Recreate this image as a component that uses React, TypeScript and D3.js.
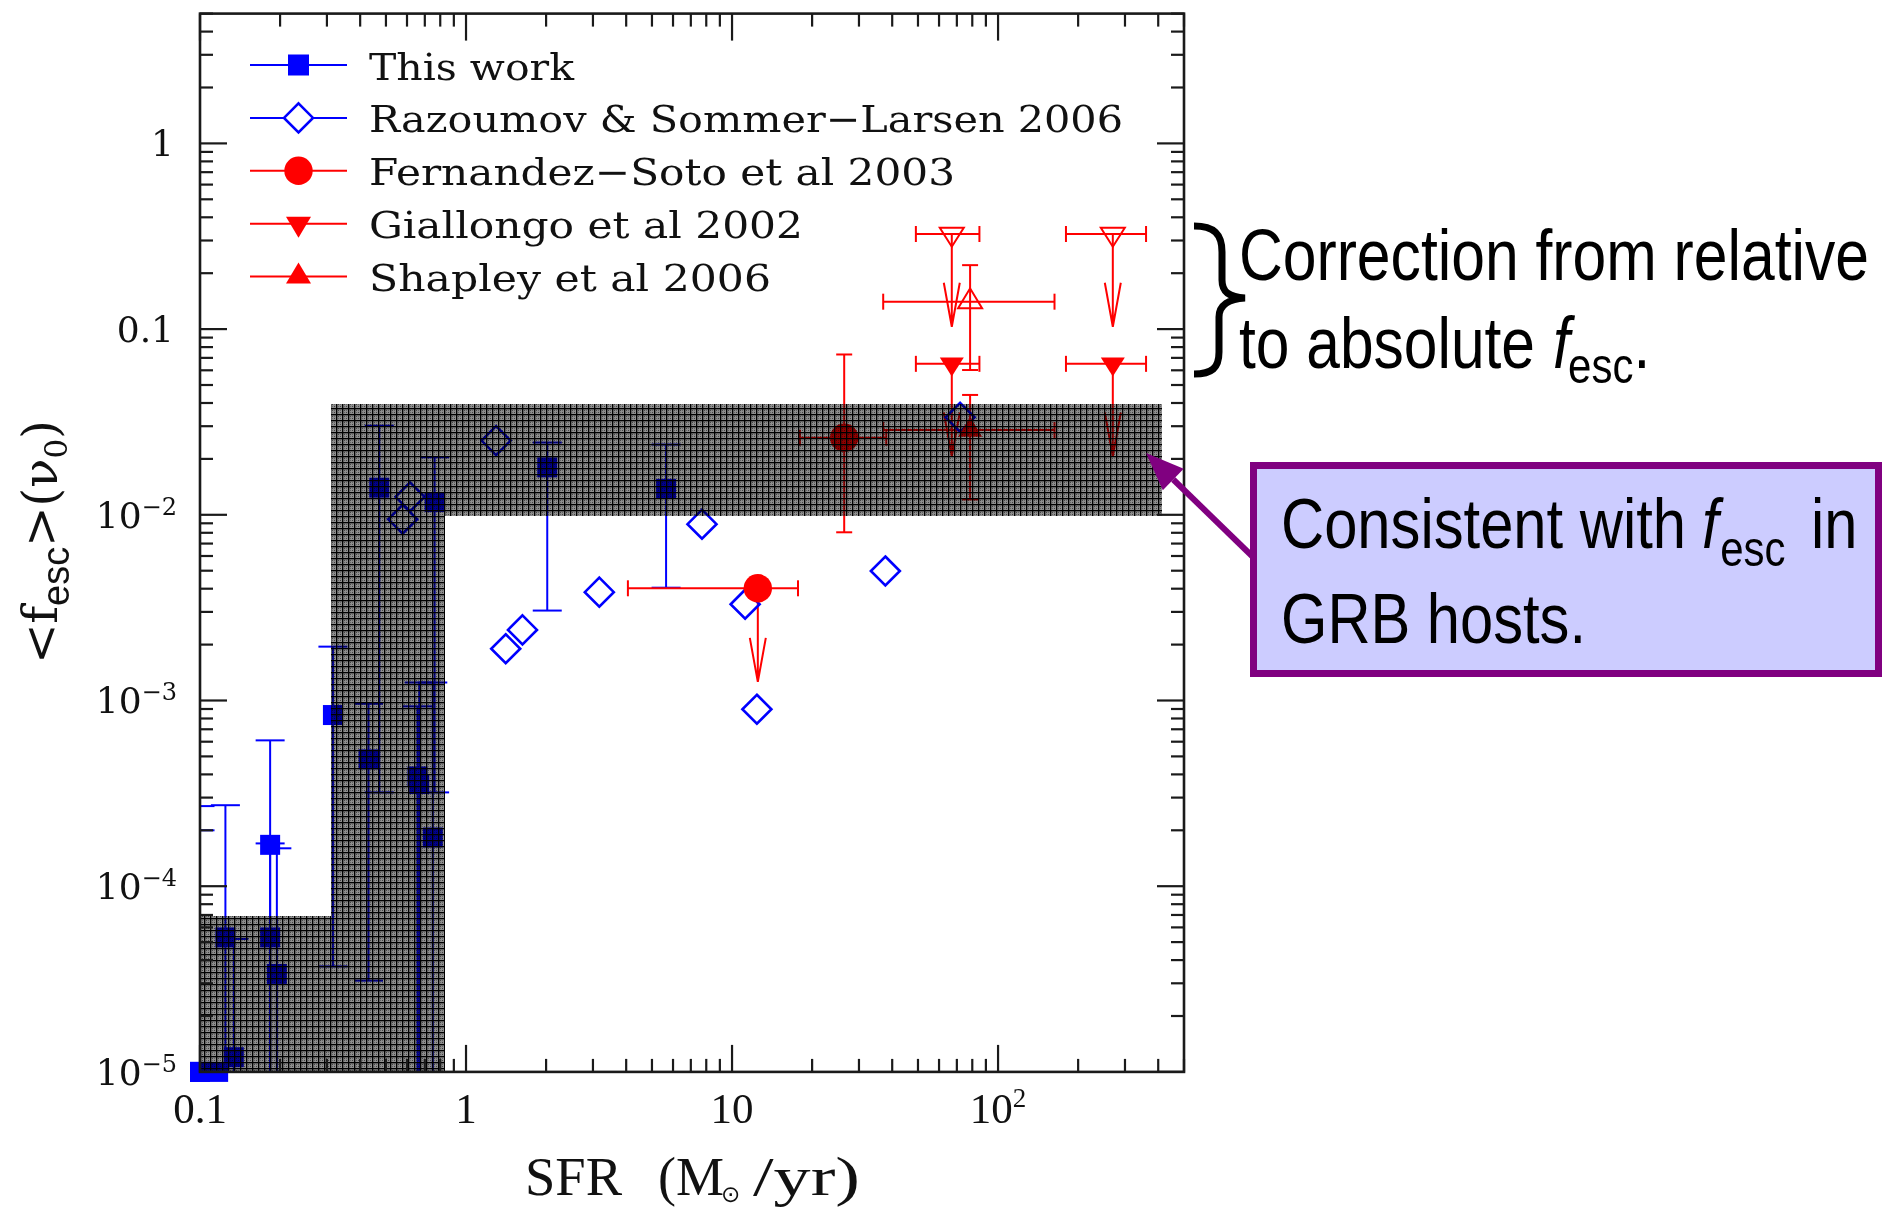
import React from "react";
import * as d3 from "d3";

// ---------- axes ----------
const X_DOMAIN: [number, number] = [0.1, 500];
const Y_DOMAIN: [number, number] = [1e-5, 5];
const xTickValues = [0.1, 1, 10, 100];
const xTickBase = ["0.1", "1", "10", "10"];
const xTickSup = ["", "", "", "2"];
const yTickValues = [1e-5, 1e-4, 1e-3, 1e-2, 0.1, 1];
const yTickBase = ["10", "10", "10", "10", "0.1", "1"];
const yTickSup = ["\u22125", "\u22124", "\u22123", "\u22122", "", ""];

// ---------- This work (filled squares): SFR, <fesc>, lower, upper ----------
// a lower limit of 1e-6 runs off the bottom of the axis
const thisWorkSfr = [0.1, 0.1, 0.117, 0.1246, 0.134, 0.1835, 0.1835, 0.1945, 0.316, 0.43, 0.472, 0.657, 0.667, 0.75, 0.762, 2.02, 5.65];
const thisWorkFesc = [1e-5, 1e-5, 1e-5, 5.3e-5, 1.2e-5, 1.67e-4, 5.3e-5, 3.37e-5, 8.35e-4, 4.82e-4, 0.014, 3.9e-4, 3.55e-4, 1.83e-4, 0.0117, 0.018, 0.0138];
const thisWorkLo = [null, null, null, 1e-6, 1e-6, 1e-6, 1e-6, 1e-6, 3.7e-5, 3.1e-5, 3.2e-4, 1e-6, 1e-6, 1e-6, 3.2e-4, 3.05e-3, 4.05e-3];
const thisWorkHi = [2.7e-4, 2.0e-4, null, 2.73e-4, 5.2e-5, 6.1e-4, 1.7e-4, 1.6e-4, 1.95e-3, 9.6e-4, 0.0302, 9.3e-4, 1.25e-3, 1.25e-3, 0.0204, 0.0245, 0.0239];

// ---------- Razoumov & Sommer-Larsen 2006 (open diamonds) ----------
const razSfr = [0.578, 0.616, 1.297, 1.41, 1.63, 3.17, 7.71, 11.2, 12.4, 37.7, 72.0];
const razFesc = [0.00946, 0.0125, 0.0251, 1.9e-3, 2.4e-3, 3.83e-3, 8.9e-3, 3.3e-3, 8.97e-4, 4.98e-3, 0.0335];

// ---------- Fernandez-Soto et al 2003 (filled circles) ----------
const fsSfr = [12.5, 26.4];
const fsSfrLo = [4.06, 18.0];
const fsSfrHi = [17.7, 38.0];
const fsFesc = [4.02e-3, 0.026];
const fsFescLo = [null, 8.05e-3];
const fsFescHi = [null, 0.073];
const fsLimitTo = [1.26e-3, null];

// ---------- Giallongo et al 2002 (down triangles, upper limits) ----------
const gSfr = [67.0, 270];
const gSfrLo = [49.1, 180];
const gSfrHi = [85.1, 360];
const gFesc = [0.065, 0.065];
const gLimitTo = [0.0206, 0.0206];
const gCorrFesc = [0.325, 0.325];
const gCorrLimitTo = [0.103, 0.103];

// ---------- Shapley et al 2006 (up triangles) ----------
const shSfr = [78.5];
const shSfrLo = [37];
const shSfrHi = [163];
const shFesc = [0.0286];
const shFescLo = [0.0121];
const shFescHi = [0.0442];
const shCorrFesc = [0.1405];
const shCorrFescLo = [0.0602];
const shCorrFescHi = [0.221];

// ---------- shaded region: [sfrMin, sfrMax, fescMin, fescMax] ----------
const shadeSfrMin = [0.1, 0.31, 0.837];
const shadeSfrMax = [0.31, 0.837, 415];
const shadeFescMin = [1e-5, 1e-5, 0.00986];
const shadeFescMax = [6.9e-5, 0.0395, 0.0395];

// ---------- legend ----------
const legendLabels = [
  "This work",
  "Razoumov & Sommer\u2212Larsen 2006",
  "Fernandez\u2212Soto et al 2003",
  "Giallongo et al 2002",
  "Shapley et al 2006",
];
const legendWidths = [205, 754, 586, 434, 402];

const BLUE = "#0000ff";
const RED = "#ff0000";
const PURPLE = "#800080";
const SERIF = "'DejaVu Serif', serif";
const TIMES = "'Liberation Serif', 'Times New Roman', serif";
const SANS = "'Liberation Sans', Arial, sans-serif";
const NARROW = 0.84; // horizontal squeeze for the condensed sans notes

function logTicks(lo: number, hi: number) {
  const out: { v: number; major: boolean }[] = [];
  for (let e = Math.floor(Math.log10(lo)); e <= Math.ceil(Math.log10(hi)); e++) {
    for (let k = 1; k <= 9; k++) {
      const v = +(k * Math.pow(10, e)).toPrecision(6);
      if (v >= lo * 0.9999 && v <= hi * 1.0001) out.push({ v, major: k === 1 });
    }
  }
  return out;
}

const triDown = (cx: number, cy: number, w: number, h: number) =>
  `M${cx - w / 2},${cy - h / 3}L${cx + w / 2},${cy - h / 3}L${cx},${cy + (2 * h) / 3}Z`;
const triUp = (cx: number, cy: number, w: number, h: number) =>
  `M${cx - w / 2},${cy + h / 3}L${cx + w / 2},${cy + h / 3}L${cx},${cy - (2 * h) / 3}Z`;
const diamond = (cx: number, cy: number, r: number) =>
  `M${cx},${cy - r}L${cx + r},${cy}L${cx},${cy + r}L${cx - r},${cy}Z`;

// condensed sans text placed at (x, y)
function Note({ x, y, size, width, children }: { x: number; y: number; size: number; width?: number; children: React.ReactNode }) {
  return (
    <text transform={`translate(${x},${y}) scale(${NARROW},1)`} fontFamily={SANS} fontSize={size} fill="#000"
      textLength={width ? width / NARROW : undefined} lengthAdjust={width ? "spacingAndGlyphs" : undefined}>
      {children}
    </text>
  );
}

export default function App() {
  const x = d3.scaleLog().domain(X_DOMAIN).range([200, 1184]);
  const y = d3.scaleLog().domain(Y_DOMAIN).range([1071.9, 13.6]);
  const left = 200, right = 1184, top = 13.6, bottom = 1071.9;
  const MAJ = 27, MIN = 13;

  const xt = logTicks(X_DOMAIN[0], X_DOMAIN[1]);
  const yt = logTicks(Y_DOMAIN[0], Y_DOMAIN[1]);

  const clipped: React.ReactNode[] = [];
  const marks: React.ReactNode[] = [];
  let k = 0;
  const line = (x1: number, y1: number, x2: number, y2: number, color: string, w = 2) =>
    clipped.push(<line key={k++} x1={x1} y1={y1} x2={x2} y2={y2} stroke={color} strokeWidth={w} />);
  const vBar = (xv: number, lo: number | null, hi: number | null, yv: number, cap: number, color: string) => {
    const px = x(xv);
    if (hi != null) {
      line(px, y(yv), px, y(hi), color);
      line(px - cap, y(hi), px + cap, y(hi), color);
    }
    if (lo != null) {
      line(px, y(yv), px, y(lo), color);
      line(px - cap, y(lo), px + cap, y(lo), color);
    }
  };
  const hBar = (lo: number, hi: number, yv: number, cap: number, color: string) => {
    const py = y(yv);
    line(x(lo), py, x(hi), py, color);
    line(x(lo), py - cap, x(lo), py + cap, color);
    line(x(hi), py - cap, x(hi), py + cap, color);
  };
  const limit = (xv: number, from: number, to: number, color: string) => {
    const px = x(xv), p0 = y(from), p1 = y(to);
    clipped.push(
      <path key={k++} d={`M${px},${p0}L${px},${p1}M${px - 8},${p1 - 44}L${px},${p1}L${px + 8},${p1 - 44}`}
        stroke={color} strokeWidth={2} fill="none" />
    );
  };

  // This work
  thisWorkSfr.forEach((s, i) => vBar(s, thisWorkLo[i], thisWorkHi[i], thisWorkFesc[i], 14.5, BLUE));
  thisWorkSfr.forEach((s, i) =>
    marks.push(<rect key={k++} x={x(s) - 10} y={y(thisWorkFesc[i]) - 10} width={20} height={20} fill={BLUE} />)
  );
  // Razoumov & Sommer-Larsen
  razSfr.forEach((s, i) =>
    marks.push(<path key={k++} d={diamond(x(s), y(razFesc[i]), 14.5)} fill="none" stroke={BLUE} strokeWidth={2.6} />)
  );
  // Fernandez-Soto
  fsSfr.forEach((s, i) => {
    hBar(fsSfrLo[i], fsSfrHi[i], fsFesc[i], 8, RED);
    vBar(s, fsFescLo[i], fsFescHi[i], fsFesc[i], 8, RED);
    const lt = fsLimitTo[i];
    if (lt != null) limit(s, fsFesc[i], lt, RED);
    marks.push(<circle key={k++} cx={x(s)} cy={y(fsFesc[i])} r={14.2} fill={RED} />);
  });
  // Giallongo
  gSfr.forEach((s, i) => {
    hBar(gSfrLo[i], gSfrHi[i], gFesc[i], 8, RED);
    limit(s, gFesc[i], gLimitTo[i], RED);
    marks.push(<path key={k++} d={triDown(x(s), y(gFesc[i]), 24, 19)} fill={RED} />);
    hBar(gSfrLo[i], gSfrHi[i], gCorrFesc[i], 8, RED);
    limit(s, gCorrFesc[i], gCorrLimitTo[i], RED);
    marks.push(<path key={k++} d={triDown(x(s), y(gCorrFesc[i]), 24, 19)} fill="none" stroke={RED} strokeWidth={2} />);
  });
  // Shapley
  shSfr.forEach((s, i) => {
    hBar(shSfrLo[i], shSfrHi[i], shFesc[i], 8, RED);
    vBar(s, shFescLo[i], shFescHi[i], shFesc[i], 8, RED);
    marks.push(<path key={k++} d={triUp(x(s), y(shFesc[i]), 24, 20)} fill={RED} />);
    hBar(shSfrLo[i], shSfrHi[i], shCorrFesc[i], 8, RED);
    vBar(s, shCorrFescLo[i], shCorrFescHi[i], shCorrFesc[i], 8, RED);
    marks.push(<path key={k++} d={triUp(x(s), y(shCorrFesc[i]), 24, 20)} fill="none" stroke={RED} strokeWidth={2} />);
  });

  // arrow from the box to the shaded band
  const tip = [1146, 453], start = [1252, 556];
  const dx = tip[0] - start[0], dy = tip[1] - start[1];
  const len = Math.hypot(dx, dy);
  const ux = dx / len, uy = dy / len;
  const bx = tip[0] - ux * 38, by = tip[1] - uy * 38;
  const nx = -uy, ny = ux;

  return (
    <svg width={1884} height={1210} style={{ position: "absolute", left: 0, top: 0 }}>
      <defs>
        <clipPath id="plotArea">
          <rect x={left} y={top} width={right - left} height={bottom - top} />
        </clipPath>
        <pattern id="hatch" width={6} height={6} patternUnits="userSpaceOnUse">
          <rect width={6} height={6} fill="#8e8e8e" />
          <rect x={2} y={2} width={1} height={1} fill="#444" />
          <rect x={4} y={4} width={1} height={1} fill="#444" />
          <rect x={2} y={4} width={1} height={1} fill="#666" />
          <rect x={4} y={2} width={1} height={1} fill="#666" />
          <rect x={0} y={0} width={6} height={1.3} fill="#000" />
          <rect x={0} y={0} width={1.3} height={6} fill="#000" />
        </pattern>
      </defs>
      <rect x={0} y={0} width={1884} height={1210} fill="#fff" />

      {/* data */}
      <g clipPath="url(#plotArea)">{clipped}</g>
      <g>{marks}</g>

      {/* shaded band, multiplied over the points */}
      <g style={{ mixBlendMode: "multiply" }} shapeRendering="crispEdges">
        {shadeSfrMin.map((s, i) => (
          <rect key={i} x={x(s)} y={y(shadeFescMax[i])} width={x(shadeSfrMax[i]) - x(s)}
            height={y(shadeFescMin[i]) - y(shadeFescMax[i])} fill="url(#hatch)" />
        ))}
      </g>

      {/* frame and ticks */}
      <g stroke="#1a1a1a" strokeWidth={2.2}>
        {xt.map((t, i) => {
          const px = x(t.v), l = t.major ? MAJ : MIN;
          return (
            <g key={"x" + i}>
              <line x1={px} y1={bottom} x2={px} y2={bottom - l} />
              <line x1={px} y1={top} x2={px} y2={top + l} />
            </g>
          );
        })}
        {yt.map((t, i) => {
          const py = y(t.v), l = t.major ? MAJ : MIN;
          return (
            <g key={"y" + i}>
              <line x1={left} y1={py} x2={left + l} y2={py} />
              <line x1={right} y1={py} x2={right - l} y2={py} />
            </g>
          );
        })}
        <rect x={left} y={top} width={right - left} height={bottom - top} fill="none" strokeWidth={2.6} />
      </g>

      {/* tick labels */}
      <g fontFamily={TIMES} fontSize={43} fill="#111" textAnchor="middle">
        {xTickValues.map((v, i) => (
          <text key={i} x={x(v)} y={1123}>
            {xTickBase[i]}
            {xTickSup[i] && <tspan fontSize={27} dy={-16}>{xTickSup[i]}</tspan>}
          </text>
        ))}
      </g>
      <g fontFamily={SERIF} fontSize={36} fill="#111" textAnchor="end">
        {yTickValues.map((v, i) => (
          <text key={i} x={yTickSup[i] ? 177 : 174} y={y(v) + 13}>
            {yTickBase[i]}
            {yTickSup[i] && <tspan fontSize={24} dy={-13}>{yTickSup[i]}</tspan>}
          </text>
        ))}
      </g>

      {/* axis titles */}
      <g fontFamily={TIMES} fontSize={54} fill="#111">
        <text x={525} y={1195} textLength={97} lengthAdjust="spacingAndGlyphs">SFR</text>
        <text x={658} y={1195}>
          (M
          <tspan fontSize={23} dx={-3} dy={7} fontFamily="'DejaVu Sans', sans-serif">{"\u2299"}</tspan>
        </text>
        <text x={753} y={1195} textLength={107} lengthAdjust="spacingAndGlyphs">/yr)</text>
      </g>
      <text transform="translate(57,542) rotate(-90)" textAnchor="middle" fontFamily={SERIF} fontSize={48} fill="#111">
        <tspan>{"<f"}</tspan>
        <tspan fontFamily={SANS} fontSize={38} dy={12}>esc</tspan>
        <tspan dy={-12}>{">(\u03bd"}</tspan>
        <tspan fontSize={31} dy={10}>0</tspan>
        <tspan dy={-10}>)</tspan>
      </text>

      {/* legend */}
      {legendLabels.map((lab, i) => {
        const my = 65 + i * 52.9;
        const col = i < 2 ? BLUE : RED;
        const mx = 298.5;
        return (
          <g key={"lg" + i}>
            <line x1={250} y1={my} x2={347} y2={my} stroke={col} strokeWidth={2} />
            {i === 0 && <rect x={mx - 10.5} y={my - 10.5} width={21} height={21} fill={BLUE} />}
            {i === 1 && <path d={diamond(mx, my, 14.5)} fill="#fff" stroke={BLUE} strokeWidth={2.6} />}
            {i === 2 && <circle cx={mx} cy={my} r={14.2} fill={RED} />}
            {i === 3 && <path d={triDown(mx, my, 25, 21)} fill={RED} />}
            {i === 4 && <path d={triUp(mx, my, 25, 21)} fill={RED} />}
            <text x={369} y={my + 14.5} fontFamily={SERIF} fontSize={38} fill="#111"
              textLength={legendWidths[i]} lengthAdjust="spacingAndGlyphs">{lab}</text>
          </g>
        );
      })}

      {/* brace note */}
      <path d="M1194,226 C1214,226 1222,234 1222,252 L1222,280 C1222,292 1229,297 1245,298 C1229,299 1219,305 1219,317 L1219,352 C1219,368 1212,374 1194,374"
        fill="none" stroke="#000" strokeWidth={7} />
      <Note x={1239} y={280} size={72} width={630}>Correction from relative</Note>
      <Note x={1239} y={368} size={72} width={296}>to absolute</Note>
      <Note x={1553} y={368} size={72}>
        <tspan fontStyle="italic">f</tspan>
        <tspan fontSize={50} dx={-2} dy={15}>esc</tspan>
        <tspan dy={-15}>.</tspan>
      </Note>

      {/* box note and arrow */}
      <line x1={start[0]} y1={start[1]} x2={bx} y2={by} stroke={PURPLE} strokeWidth={6} />
      <path d={`M${tip[0]},${tip[1]}L${bx + nx * 15},${by + ny * 15}L${bx - nx * 15},${by - ny * 15}Z`} fill={PURPLE} />
      <rect x={1253.5} y={465.5} width={625} height={208} fill="#ccccff" stroke={PURPLE} strokeWidth={7} />
      <Note x={1281} y={548} size={71} width={405}>Consistent with</Note>
      <Note x={1702} y={548} size={71}>
        <tspan fontStyle="italic">f</tspan>
        <tspan fontSize={50} dx={2} dy={18}>esc</tspan>
      </Note>
      <Note x={1811} y={548} size={71}>in</Note>
      <Note x={1281} y={643} size={71} width={305}>GRB hosts.</Note>
    </svg>
  );
}
